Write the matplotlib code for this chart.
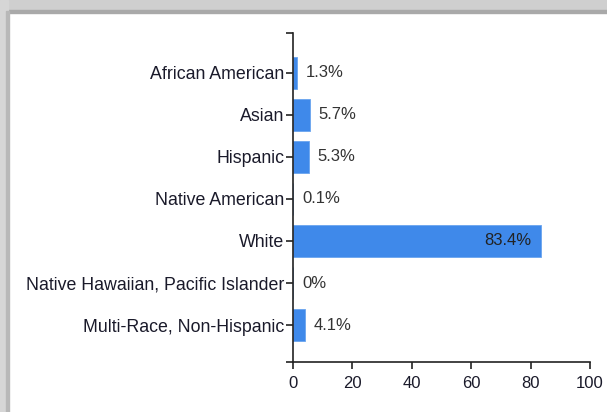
import matplotlib.pyplot as plt
from matplotlib.patches import Rectangle

categories = ['African American', 'Asian', 'Hispanic', 'Native American', 'White',
              'Native Hawaiian, Pacific Islander', 'Multi-Race, Non-Hispanic']
values = [1.3, 5.7, 5.3, 0.1, 83.4, 0.0, 4.1]
labels = ['1.3%', '5.7%', '5.3%', '0.1%', '83.4%', '0%', '4.1%']
xticks = [0, 20, 40, 60, 80, 100]

plt.rcParams['font.family'] = ['Liberation Sans', 'DejaVu Sans']

fig = plt.figure(figsize=(6.07, 4.12), dpi=100)

# grey frame along top and left (screenshot shadow)
fig.patches.append(Rectangle((0, 401/412), 1, 11/412, transform=fig.transFigure,
                             color='#cfcfcf', zorder=0))
fig.patches.append(Rectangle((0, 399/412), 1, 3/412, transform=fig.transFigure,
                             color='#a9a9a9', zorder=0))
fig.patches.append(Rectangle((0, 0), 8/607, 1, transform=fig.transFigure,
                             color='#d6d6d6', zorder=0))
fig.patches.append(Rectangle((6/607, 0), 3/607, 401/412, transform=fig.transFigure,
                             color='#b8b8b8', zorder=0))

ax = fig.add_axes([293/607, 50/412, 297/607, 329/412])
y = list(range(len(categories)))
ax.barh(y, values, height=0.78, color='#3f89ea', edgecolor='#6aa5ef', linewidth=0.6)

for i, (v, lab) in enumerate(zip(values, labels)):
    if v > 50:
        ax.text(v - 3.3, i, lab, ha='right', va='center', fontsize=12, color='#222222')
    else:
        ax.text(v + 3.0, i, lab, ha='left', va='center', fontsize=12, color='#333333')

ax.set_ylim(6.88, -0.95)
ax.set_xlim(0, 100)
ax.set_yticks(y)
ax.set_yticklabels(categories, fontsize=12.8, color='#1a1a2a')
ax.set_yticks([6.88, -0.95], minor=True)
ax.set_xticks(xticks)
ax.set_xticklabels([str(t) for t in xticks], fontsize=12, color='#1a1a2a')
ax.tick_params(axis='both', which='both', direction='out', length=5, width=1.2,
               color='#222222', pad=1)
ax.tick_params(axis='x', pad=5)
for s in ['top', 'right']:
    ax.spines[s].set_visible(False)
for s in ['left', 'bottom']:
    ax.spines[s].set_linewidth(1.2)
    ax.spines[s].set_color('#222222')

fig.savefig('out.png', dpi=100)
